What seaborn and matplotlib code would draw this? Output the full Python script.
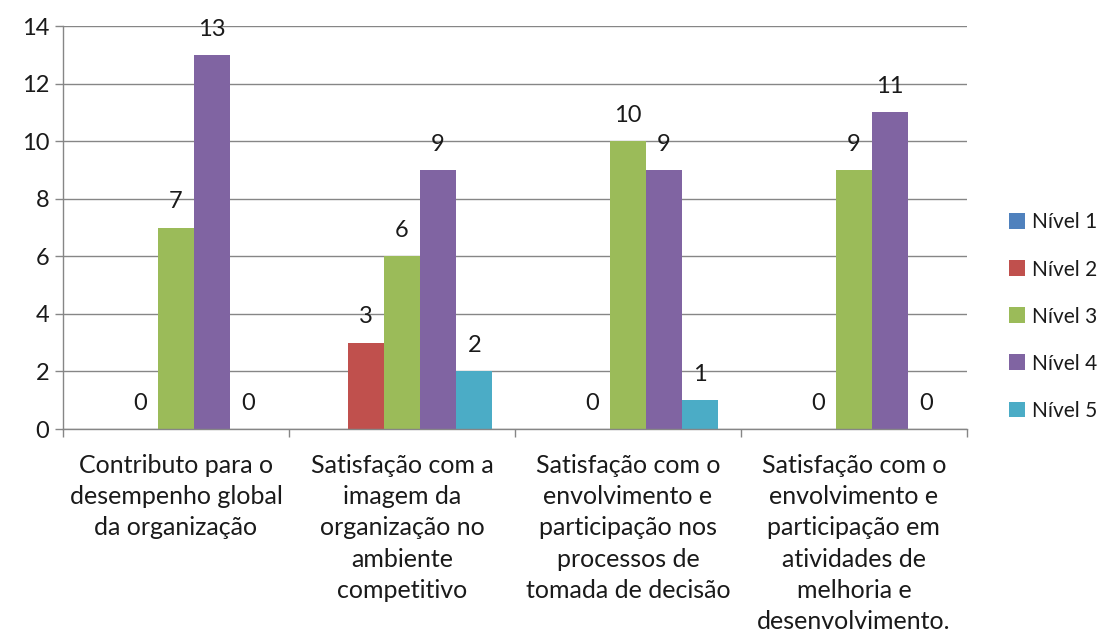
import numpy as np
import pandas as pd
import matplotlib
matplotlib.use("Agg")
import matplotlib.pyplot as plt
import matplotlib.patches as mpatches
import seaborn as sns

categories = [
    "Contributo para o\ndesempenho global\nda organização",
    "Satisfação com a\nimagem da\norganização no\nambiente\ncompetitivo",
    "Satisfação com o\nenvolvimento e\nparticipação nos\nprocessos de\ntomada de decisão",
    "Satisfação com o\nenvolvimento e\nparticipação em\natividades de\nmelhoria e\ndesenvolvimento.",
]
levels = ["Nível 1", "Nível 2", "Nível 3", "Nível 4", "Nível 5"]
nivel_1 = [np.nan, np.nan, np.nan, np.nan]
nivel_2 = [0, 3, 0, 0]
nivel_3 = [7, 6, 10, 9]
nivel_4 = [13, 9, 9, 11]
nivel_5 = [0, 2, 1, 0]
colors = ["#4F81BD", "#C0504D", "#9BBB59", "#8064A2", "#4BACC6"]

series = [nivel_1, nivel_2, nivel_3, nivel_4, nivel_5]
rows = []
for lvl, vals in zip(levels, series):
    for cat, v in zip(categories, vals):
        rows.append({"categoria": cat, "nivel": lvl, "valor": v})
df = pd.DataFrame(rows)

sns.set_theme(style="white")
plt.rcParams["font.family"] = ["Lato", "DejaVu Sans"]
text_color = "#1a1a1a"
grid_color = "#868686"

fig = plt.figure(figsize=(11.05, 6.37), dpi=100)
ax = fig.add_axes([0.057, 0.3265, 0.818, 0.6325])

sns.barplot(data=df, x="categoria", y="valor", hue="nivel", order=categories,
            hue_order=levels, palette=colors, width=0.8, saturation=1,
            legend=False, ax=ax, errorbar=None, linewidth=0)

for cont in ax.containers:
    vals = cont.datavalues
    labels = ["" if np.isnan(v) else f"{v:g}" for v in vals]
    ax.bar_label(cont, labels=labels, padding=11, fontsize=17, color=text_color)

ax.set_ylim(0, 14)
ax.set_xlim(-0.5, 3.5)
ax.set_yticks(range(0, 15, 2))
ax.set_xlabel("")
ax.set_ylabel("")
ax.yaxis.grid(True, color=grid_color, linewidth=1)
ax.set_axisbelow(True)
for s in ["top", "right"]:
    ax.spines[s].set_visible(False)
for s in ["left", "bottom"]:
    ax.spines[s].set_color(grid_color)
    ax.spines[s].set_linewidth(1)

ax.tick_params(axis="y", which="major", length=6, color=grid_color, width=1,
               labelsize=17, labelcolor=text_color, pad=4, left=True)
ax.set_xticks(range(len(categories)))
ax.set_xticklabels(categories, fontsize=18, color=text_color,
                   linespacing=1.43, va="top")
ax.tick_params(axis="x", which="major", length=0, pad=18)
ax.set_xticks([-0.5, 0.5, 1.5, 2.5, 3.5], minor=True)
ax.tick_params(axis="x", which="minor", length=6, color=grid_color, width=1,
               bottom=True)

handles = [mpatches.Patch(facecolor=c, edgecolor="none", label=l)
           for c, l in zip(colors, levels)]
leg = fig.legend(handles=handles, loc="center left",
                 bbox_to_anchor=(0.896, 0.503), frameon=False, fontsize=15,
                 handlelength=0.8, handleheight=0.8, handletextpad=0.3,
                 labelspacing=1.3, labelcolor=text_color)

fig.savefig("out.png", dpi=100, facecolor="white")
